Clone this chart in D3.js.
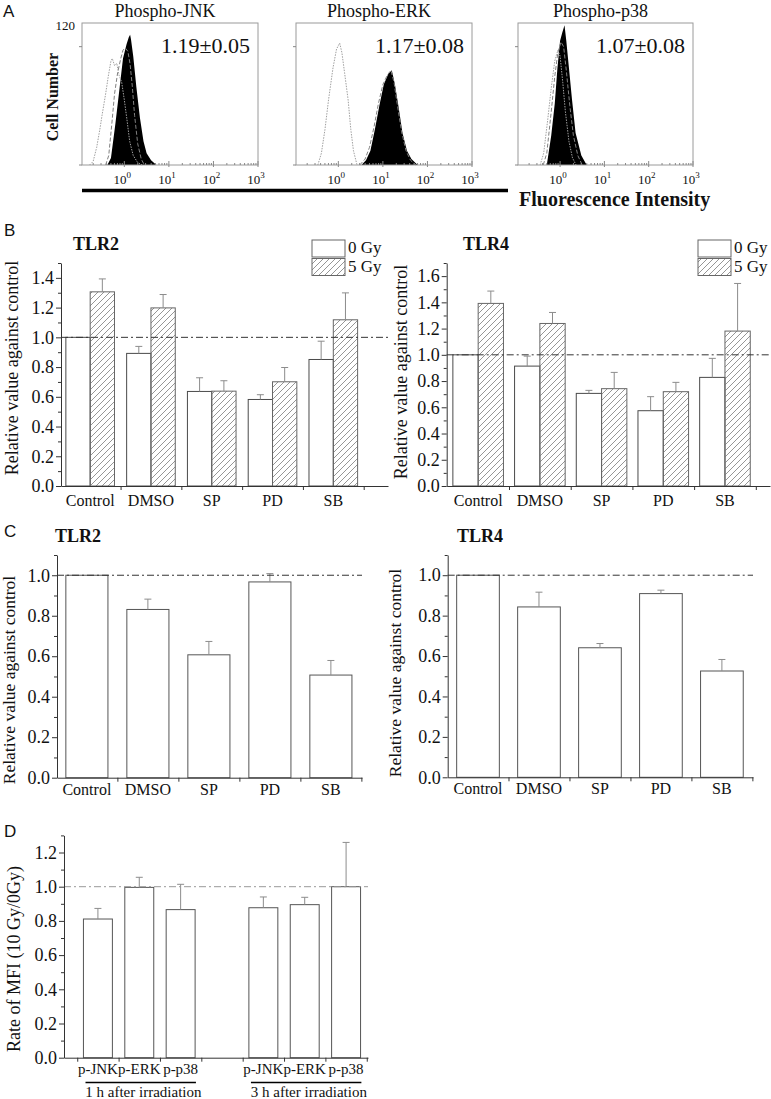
<!DOCTYPE html>
<html><head><meta charset="utf-8">
<script src="https://cdn.jsdelivr.net/npm/d3@7"></script>
<style>
body{margin:0;background:#fff}
svg text{font-family:"Liberation Serif","Times New Roman",serif;fill:#111}
</style>
</head><body>
<script>
// ---------------- DATA ----------------
// Panel A: flow-cytometry histograms, points are [log10 intensity, cell count]
const histTitles = ["Phospho-JNK", "Phospho-ERK", "Phospho-p38"];
const histRatios = ["1.19\u00B10.05", "1.17\u00B10.08", "1.07\u00B10.08"];
const histDecades = [0, 1, 2, 3];
const countTicks = [0, 100];

const jnkIso  = [[-0.78,0],[-0.7,3],[-0.62,15],[-0.55,30],[-0.5,42],[-0.42,60],[-0.36,75],[-0.3,88],[-0.27,90],[-0.22,84],[-0.17,86],[-0.12,76],[-0.06,70],[0.0,55],[0.06,38],[0.12,20],[0.2,8],[0.3,2],[0.4,0]];
const jnkCtrl = [[-0.42,0],[-0.35,8],[-0.28,35],[-0.22,60],[-0.15,78],[-0.08,90],[-0.03,97],[0.02,99],[0.08,96],[0.13,85],[0.18,66],[0.23,42],[0.3,18],[0.38,5],[0.45,0]];
const jnkIrr  = [[-0.38,0],[-0.3,6],[-0.2,35],[-0.11,64],[-0.03,90],[0.05,102],[0.1,108],[0.13,110],[0.15,106],[0.2,92],[0.27,66],[0.35,40],[0.43,20],[0.5,10],[0.6,4],[0.72,0]];

const erkIso  = [[-0.46,0],[-0.38,10],[-0.3,30],[-0.22,55],[-0.12,82],[-0.04,98],[0.03,103],[0.08,95],[0.14,78],[0.22,55],[0.28,30],[0.34,12],[0.42,0]];
const erkCtrl = [[0.48,0],[0.6,5],[0.7,15],[0.8,32],[0.9,52],[1.0,68],[1.1,76],[1.18,80],[1.25,70],[1.32,52],[1.42,28],[1.52,12],[1.62,4],[1.74,0]];
const erkIrr  = [[0.52,0],[0.62,4],[0.72,12],[0.82,30],[0.92,50],[1.02,68],[1.12,77],[1.2,80],[1.27,68],[1.34,52],[1.44,27],[1.54,12],[1.64,5],[1.78,0]];

const p38Iso  = [[-0.45,0],[-0.37,10],[-0.28,38],[-0.2,65],[-0.12,88],[-0.05,97],[0.0,92],[0.06,70],[0.12,45],[0.2,20],[0.28,6],[0.36,0]];
const p38Ctrl = [[-0.38,0],[-0.3,10],[-0.2,45],[-0.12,75],[-0.05,95],[0.02,104],[0.08,100],[0.14,80],[0.22,50],[0.3,25],[0.4,8],[0.5,0]];
const p38Irr  = [[-0.3,0],[-0.2,25],[-0.12,52],[-0.06,82],[0.0,105],[0.05,112],[0.1,118],[0.14,105],[0.2,82],[0.27,55],[0.35,27],[0.48,8],[0.6,0]];

// Panels B & C
const tlrCats = ["Control", "DMSO", "SP", "PD", "SB"];
const doseLabels = ["0 Gy", "5 Gy"];

const bTlr2Gy0   = [1.00, 0.892, 0.636, 0.582, 0.851];
const bTlr2Gy0Sd = [0.00, 0.047, 0.092, 0.032, 0.123];
const bTlr2Gy5   = [1.306, 1.198, 0.638, 0.701, 1.118];
const bTlr2Gy5Sd = [0.087, 0.090, 0.070, 0.096, 0.181];

const bTlr4Gy0   = [1.00, 0.914, 0.706, 0.574, 0.828];
const bTlr4Gy0Sd = [0.00, 0.076, 0.023, 0.107, 0.145];
const bTlr4Gy5   = [1.392, 1.239, 0.742, 0.719, 1.181];
const bTlr4Gy5Sd = [0.094, 0.084, 0.124, 0.071, 0.363];

const cTlr2   = [1.00, 0.831, 0.607, 0.967, 0.507];
const cTlr2Sd = [0.00, 0.051, 0.066, 0.041, 0.072];
const cTlr4   = [1.00, 0.843, 0.641, 0.909, 0.526];
const cTlr4Sd = [0.00, 0.073, 0.021, 0.017, 0.057];

// Panel D
const dCats = ["p-JNK", "p-ERK", "p-p38"];
const dGroups = ["1 h after irradiation", "3 h after irradiation"];
const d1h   = [0.811, 0.996, 0.866];
const d1hSd = [0.062, 0.059, 0.148];
const d3h   = [0.877, 0.895, 1.000];
const d3hSd = [0.063, 0.043, 0.259];

// ---------------- DRAWING ----------------
const SERIF = "'Liberation Serif', 'Times New Roman', serif";
const svg = d3.select("body").append("svg").attr("width", 771).attr("height", 1099)
  .attr("font-family", SERIF);
const defs = svg.append("defs");
defs.append("pattern").attr("id", "hatch").attr("patternUnits", "userSpaceOnUse")
  .attr("width", 6).attr("height", 6)
  .append("path").attr("d", "M-1,1 l2,-2 M0,6 l6,-6 M5,7 l2,-2")
  .attr("stroke", "#8a8a8a").attr("stroke-width", 0.9);

function panelLetter(t, x, y) {
  svg.append("text").attr("x", x).attr("y", y).text(t)
    .style("font-family", "'Liberation Sans', Arial, sans-serif").style("font-size", "17px");
}

// ---- Panel A ----
panelLetter("A", 3, 17);
const histBoxes = [[82, 258], [296, 472], [518, 693]];
const histData = [[jnkIso, jnkCtrl, jnkIrr], [erkIso, erkCtrl, erkIrr], [p38Iso, p38Ctrl, p38Irr]];
const hTop = 23, hBottom = 165;

histBoxes.forEach((b, i) => {
  const x = d3.scaleLog().domain([Math.pow(10, -0.95), 1000]).range(b);
  const y = d3.scaleLinear().domain([0, 120]).range([hBottom, hTop]);
  const g = svg.append("g");
  const px = d => x(Math.pow(10, d[0]));
  const area = d3.area().x(px).y0(hBottom).y1(d => y(d[1]));
  const line = d3.line().x(px).y(d => y(d[1]));
  const [iso, ctrl, irr] = histData[i];
  g.append("path").datum(irr).attr("d", area).attr("fill", "#000");
  g.append("path").datum(ctrl).attr("d", line).attr("fill", "none")
    .attr("stroke", "#808080").attr("stroke-width", 1).attr("stroke-dasharray", "4,2");
  g.append("path").datum(iso).attr("d", line).attr("fill", "none")
    .attr("stroke", "#a0a0a0").attr("stroke-width", 1).attr("stroke-dasharray", "1.5,1.2");
  g.append("rect").attr("x", b[0]).attr("y", hTop).attr("width", b[1] - b[0]).attr("height", hBottom - hTop)
    .attr("fill", "none").attr("stroke", "#9a9a9a").attr("stroke-width", 1);
  // minor / major log ticks (inside, pointing up)
  const minor = [];
  [-1, 0, 1, 2].forEach(dec => d3.range(2, 10).forEach(k => {
    const v = k * Math.pow(10, dec);
    if (v >= x.domain()[0] && v <= 1000) minor.push(v);
  }));
  const tg = g.append("g").attr("stroke", "#888");
  tg.selectAll("line.mi").data(minor).join("line")
    .attr("x1", d => x(d)).attr("x2", d => x(d)).attr("y1", hBottom).attr("y2", hBottom - 2);
  tg.selectAll("line.ma").data(histDecades).join("line")
    .attr("x1", d => x(Math.pow(10, d))).attr("x2", d => x(Math.pow(10, d)))
    .attr("y1", hBottom + 2).attr("y2", hBottom - 4);
  tg.selectAll("line.yt").data(countTicks).join("line")
    .attr("x1", b[0] - 3).attr("x2", b[0]).attr("y1", d => y(d)).attr("y2", d => y(d));
  // tick labels
  histDecades.forEach(d => {
    const t = g.append("text").attr("x", x(Math.pow(10, d)) - 2).attr("y", 184)
      .attr("text-anchor", "middle").style("font-size", "13px");
    t.append("tspan").text("10");
    t.append("tspan").attr("dy", -6).style("font-size", "9px").text(String(d));
  });
  svg.append("text").attr("x", (b[0] + b[1]) / 2 - 5).attr("y", 17).attr("text-anchor", "middle")
    .style("font-size", "18px").text(histTitles[i]);
  svg.append("text").attr("x", b[1] - 8).attr("y", 53).attr("text-anchor", "end")
    .style("font-size", "22px").text(histRatios[i]);
});
svg.append("text").attr("x", 75).attr("y", 30).attr("text-anchor", "end").style("font-size", "13px").text("120");
svg.append("text").attr("transform", "translate(58,97) rotate(-90)").attr("text-anchor", "middle")
  .style("font-size", "16px").style("font-weight", "bold").text("Cell Number");
svg.append("line").attr("x1", 82).attr("x2", 508).attr("y1", 190.5).attr("y2", 190.5)
  .attr("stroke", "#000").attr("stroke-width", 3.5);
svg.append("text").attr("x", 519).attr("y", 206).style("font-size", "20px").style("font-weight", "bold")
  .text("Fluorescence Intensity");

// ---- bar chart helper ----
function barChart(cfg) {
  const g = svg.append("g");
  const x = d3.scaleLinear().domain(cfg.xDomain).range(cfg.xRange);
  const y = d3.scaleLinear().domain([0, cfg.yMax]).range([cfg.yBottom, cfg.yTop]);

  // bars
  cfg.series.forEach(s => {
    s.values.forEach((v, i) => {
      const c = x(s.pos[i] + s.offset);
      const w = x(s.width) - x(0);
      g.append("rect").attr("x", c - w / 2).attr("y", y(v)).attr("width", w).attr("height", y(0) - y(v))
        .attr("fill", s.fill).attr("stroke", s.stroke).attr("stroke-width", 1);
      if (s.sd[i] > 0) {
        g.append("line").attr("x1", c).attr("x2", c).attr("y1", y(v)).attr("y2", y(v + s.sd[i]))
          .attr("stroke", "#8c8c8c").attr("stroke-width", 1);
        g.append("line").attr("x1", c - 3.5).attr("x2", c + 3.5).attr("y1", y(v + s.sd[i])).attr("y2", y(v + s.sd[i]))
          .attr("stroke", "#8c8c8c").attr("stroke-width", 1);
      }
    });
  });

  // reference line at 1.0
  g.append("line").attr("x1", cfg.xRange[0]).attr("x2", cfg.xRange[1]).attr("y1", y(1)).attr("y2", y(1))
    .attr("stroke", cfg.refColor || "#333").attr("stroke-width", 1).attr("stroke-dasharray", "7,3,2,3");

  // y axis
  const major = d3.range(0, cfg.yMax + 1e-9, 0.2);
  const minor = d3.range(0.1, cfg.yMax + 1e-9, 0.2);
  const ya = g.append("g").attr("transform", `translate(${cfg.xRange[0]},0)`)
    .call(d3.axisLeft(y).tickValues(major).tickSize(5).tickSizeOuter(0).tickFormat(d3.format(".1f")))
    .attr("font-family", SERIF);
  ya.select(".domain").attr("stroke", "#333");
  ya.selectAll(".tick line").attr("stroke", "#333");
  ya.selectAll(".tick text").style("font-family", SERIF).style("font-size", "18px")
    .attr("fill", "#111").attr("x", -7);
  g.append("g").attr("transform", `translate(${cfg.xRange[0]},0)`)
    .call(d3.axisLeft(y).tickValues(minor).tickSize(3).tickFormat(""))
    .call(a => a.select(".domain").remove())
    .selectAll(".tick line").attr("stroke", "#333");

  // x axis
  const xa = g.append("g").attr("transform", `translate(0,${cfg.yBottom})`)
    .call(d3.axisBottom(x).tickValues(cfg.xTicks).tickSize(4).tickSizeOuter(0).tickFormat(""));
  xa.select(".domain").attr("stroke", "#333");
  xa.selectAll(".tick line").attr("stroke", "#333");

  // category labels
  cfg.labels.forEach((l, i) => {
    g.append("text").attr("x", x(cfg.labelPos[i])).attr("y", cfg.yBottom + cfg.labelDy)
      .attr("text-anchor", "middle").style("font-size", cfg.labelSize).text(l);
  });

  // y label
  g.append("text").attr("transform", `translate(${cfg.yLabelX},${cfg.yLabelY}) rotate(-90)`)
    .attr("text-anchor", "middle").style("font-size", cfg.yLabelSize).text(cfg.yLabel);

  if (cfg.title) {
    g.append("text").attr("x", cfg.title[1]).attr("y", cfg.title[2]).style("font-size", "18px")
      .style("font-weight", "bold").text(cfg.title[0]);
  }
  return {x, y, g};
}

const idx5 = tlrCats.map((_, i) => i);
const yLab = "Relative value against control";

function legend(x0, y0) {
  const fills = ["#fff", "url(#hatch)"];
  doseLabels.forEach((d, i) => {
    svg.append("rect").attr("x", x0).attr("y", y0 + i * 18.5).attr("width", 33).attr("height", 17)
      .attr("fill", fills[i]).attr("stroke", "#666").attr("stroke-width", 1);
    svg.append("text").attr("x", x0 + 36).attr("y", y0 + 13 + i * 18.5).style("font-size", "17px").text(d);
  });
}

// ---- Panel B ----
panelLetter("B", 4, 236);
barChart({
  xDomain: [-0.48, 4.9], xRange: [61, 388], yBottom: 486, yTop: 263, yMax: 1.5,
  xTicks: [0.5, 1.5, 2.5, 3.5, 4.5],
  series: [
    {values: bTlr2Gy0, sd: bTlr2Gy0Sd, pos: idx5, offset: -0.2, width: 0.4, fill: "#fff", stroke: "#4a4a4a"},
    {values: bTlr2Gy5, sd: bTlr2Gy5Sd, pos: idx5, offset: 0.2, width: 0.4, fill: "url(#hatch)", stroke: "#666"}
  ],
  labels: tlrCats, labelPos: idx5, labelDy: 20, labelSize: "16px",
  yLabel: yLab, yLabelX: 18, yLabelY: 368, yLabelSize: "18px",
  title: ["TLR2", 73, 250]
});
legend(312, 240);

barChart({
  xDomain: [-0.51, 4.73], xRange: [446.7, 770], yBottom: 486, yTop: 263, yMax: 1.7,
  xTicks: [0.5, 1.5, 2.5, 3.5, 4.5],
  series: [
    {values: bTlr4Gy0, sd: bTlr4Gy0Sd, pos: idx5, offset: -0.205, width: 0.41, fill: "#fff", stroke: "#4a4a4a"},
    {values: bTlr4Gy5, sd: bTlr4Gy5Sd, pos: idx5, offset: 0.205, width: 0.41, fill: "url(#hatch)", stroke: "#666"}
  ],
  labels: tlrCats, labelPos: idx5, labelDy: 20, labelSize: "16px",
  yLabel: yLab, yLabelX: 407, yLabelY: 372, yLabelSize: "18px",
  title: ["TLR4", 463, 250]
});
legend(698, 240);

// ---- Panel C ----
panelLetter("C", 4, 537);
barChart({
  xDomain: [-0.49, 4.51], xRange: [57, 362], yBottom: 777.7, yTop: 555, yMax: 1.1,
  xTicks: [0.5, 1.5, 2.5, 3.5, 4.5],
  series: [{values: cTlr2, sd: cTlr2Sd, pos: idx5, offset: 0, width: 0.69, fill: "#fff", stroke: "#555"}],
  labels: tlrCats, labelPos: idx5, labelDy: 17, labelSize: "16px",
  yLabel: yLab, yLabelX: 15, yLabelY: 680, yLabelSize: "17.5px",
  title: ["TLR2", 55, 542]
});
barChart({
  xDomain: [-0.497, 4.51], xRange: [447.7, 753], yBottom: 777.3, yTop: 555, yMax: 1.1,
  xTicks: [0.5, 1.5, 2.5, 3.5, 4.5],
  series: [{values: cTlr4, sd: cTlr4Sd, pos: idx5, offset: 0, width: 0.7, fill: "#fff", stroke: "#555"}],
  labels: tlrCats, labelPos: idx5, labelDy: 17, labelSize: "16px",
  yLabel: yLab, yLabelX: 401, yLabelY: 673, yLabelSize: "17.5px",
  title: ["TLR4", 457, 542]
});

// ---- Panel D ----
panelLetter("D", 4, 837);
const dPos = [0, 1, 2];
const dLabels = dGroups.flatMap(() => dCats);
const dLabelPos = dGroups.flatMap((_, gi) => dPos.map(p => gi * 4 + p));
const D = barChart({
  xDomain: [-0.82, 6.53], xRange: [64, 368], yBottom: 1057.7, yTop: 835.4, yMax: 1.3,
  xTicks: d3.range(-0.5, 6.6, 1), refColor: "#999",
  series: [
    {values: d1h, sd: d1hSd, pos: dPos, offset: 0, width: 0.7, fill: "#fff", stroke: "#555"},
    {values: d3h, sd: d3hSd, pos: dPos, offset: 4, width: 0.7, fill: "#fff", stroke: "#555"}
  ],
  labels: dLabels, labelPos: dLabelPos, labelDy: 16, labelSize: "15px",
  yLabel: "Rate of MFI (10 Gy/0Gy)", yLabelX: 20, yLabelY: 959, yLabelSize: "18px"
});
dGroups.forEach((gname, gi) => {
  D.g.append("line").attr("x1", D.x(gi * 4 - 0.3)).attr("x2", D.x(gi * 4 + 2.37))
    .attr("y1", 1082.5).attr("y2", 1082.5).attr("stroke", "#000").attr("stroke-width", 1.5);
  D.g.append("text").attr("x", D.x(gi * 4 + 1.1)).attr("y", 1097).attr("text-anchor", "middle")
    .style("font-size", "15px").text(gname);
});
</script>
</body></html>
